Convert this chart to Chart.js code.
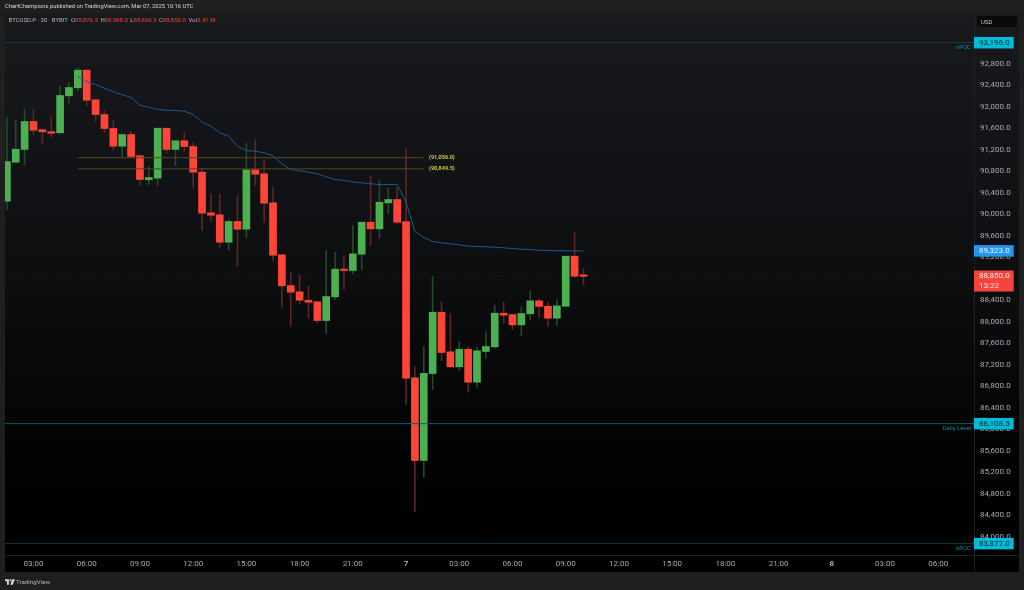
<!DOCTYPE html>
<html>
<head>
<meta charset="utf-8">
<title>BTCUSD.P 30</title>
<style>
  html, body { margin: 0; padding: 0; background: #1f1f1f; overflow: hidden; }
  #wrap { position: relative; width: 1024px; height: 590px; font-family: Roboto, "Liberation Sans", sans-serif; }
  canvas { position: absolute; left: 0; top: 0; }
  .txt { position: absolute; white-space: nowrap; line-height: 1; }
  #published { left: 5px; top: 4px; font-size: 5.8px; color: #d8d8d8; }
  #legend { left: 8.5px; top: 17px; font-size: 6px; color: #b2b5be; }
  #legend b { font-weight: 400; color: #f0433a; margin-right: 1px; }
  #usd { left: 977px; top: 16px; width: 40px; height: 11px; line-height: 11px; background: #0a0a0b; border-radius: 1px; color: #ccc; font-size: 6px; text-indent: 4px; }
  #brand { left: 16px; top: 579px; font-size: 6.2px; color: #b5b5b5; }
  #logo { position: absolute; left: 5px; top: 578.5px; }
</style>
</head>
<body>
<div id="wrap">
  <canvas id="chart" width="1024" height="590"></canvas>
  <div class="txt" id="published">ChartChampions published on TradingView.com, Mar 07, 2025 10:16 UTC</div>
  <div class="txt" id="legend">BTCUSD.P · 30 · BYBIT&nbsp; O<b>88,876.5</b> H<b>88,988.0</b> L<b>88,690.5</b> C<b>88,850.0</b> Vol<b>3.47 M</b></div>
  <div class="txt" id="usd">USD</div>
  <svg id="logo" width="10" height="6" viewBox="0 0 36 20"><path fill="#d8d8d8" d="M0 0h14v20H7V7H0zM20 0a4 4 0 1 1 0 8 4 4 0 0 1 0-8zM27 0h9l-8 20h-9z"/></svg>
  <div class="txt" id="brand">TradingView</div>
</div>

<script src="https://cdn.jsdelivr.net/npm/chart.js@4"></script>
<script>
const openPrices = [90247,90973,91209,91730,91576,91539,91520,92208,92357,92685,92134,91860,91600,91271,91488,91092,90645,90675,91605,91209,91371,91265,90787,90031,89994,89484,89870,89726,90831,90757,90217,89250,88679,88561,88405,88375,88027,88468,88982,88958,89261,89856,89733,90217,90279,89870,86961,85423,87041,88182,87445,87166,87493,86880,87451,87538,88163,88139,87947,88152,88394,88293,88070,88293,89224,88876.5];
const highPrices = [91810,91762,91948,91948,91594,91810,92394,92456,92729,92692,92140,91935,91743,91490,91544,91111,90893,91612,91612,91377,91520,91334,90869,90385,90385,89907,90353,91326,91395,91004,90511,89256,88915,88878,88679,88381,89330,89298,89231,89795,89860,90712,90632,90489,90508,91222,87172,87544,88846,88381,88152,87637,87531,87531,87823,88306,88368,88139,88288,88573,88424,88362,88418,89228,89659,88988];
const lowPrices = [90087,90958,90924,91483,91326,91438,91512,92071,92294,92022,91736,91531,91204,91079,91066,90552,90552,90539,91148,90911,91166,90508,89702,89870,89391,89330,89038,89566,90545,89856,89144,88275,87921,88338,88070,87985,87780,88418,88604,88896,88971,89423,89559,90013,89838,86465,84474,85112,86738,87283,87159,87097,86693,86786,87326,87512,87977,87860,87743,88033,88083,87916,87940,88290,88833,88690.5];
const closePrices = [90986,91215,91730,91568,91539,91512,92214,92363,92685,92126,91860,91600,91271,91488,91079,90651,90688,91605,91209,91371,91265,90787,90024,89987,89484,89870,89726,90831,90749,90210,89242,88673,88554,88405,88368,88027,88474,88982,88958,89268,89856,89733,90228,90279,89856,86954,85423,87047,88182,87432,87166,87493,86880,87464,87544,88163,88126,87947,88158,88394,88288,88070,88301,89224,88852,88850];
const vwapValues = [92567,92474,92418,92350,92283,92227,92177,92033,91991,91959,91940,91935,91922,91860,91717,91643,91520,91457,91271,91191,91177,91148,91092,90939,90837,90813,90787,90757,90701,90651,90632,90608,90589,90571,90558,90558,90558,90228,89683,89572,89497,89473,89454,89436,89410,89404,89399,89391,89380,89367,89354,89348,89335,89330,89327,89325,89324,89323];
const priceTicks = [92800,92400,92000,91600,91200,90800,90400,90000,89600,89200,88800,88400,88000,87600,87200,86800,86400,86000,85600,85200,84800,84400,84000];
const timeBars = [6,12,18,24,30,36,42,48,54,60,66,72,78,84,90,96,102,108];
const timeLabels = ["03:00","06:00","09:00","12:00","15:00","18:00","21:00","7","03:00","06:00","09:00","12:00","15:00","18:00","21:00","8","03:00","06:00"];
const firstBar = 3;
const vwapFirstBar = 11;
const lastPrice = 88850;
const vwapLast = 89323;
const npocTop = 93196;
const npocBottom = 83877;
const dailyLevel = 86108.5;
const yellowLevels = [91056, 90849.5];
const yellowFrom = 11;
const yellowTo = 50;

const UP = "#4caf50", DOWN = "#ff4538";
const UP_WICK = "#24492a", DOWN_WICK = "#5c2623";
const TEAL = "#00bcd9";

const xMin = 2.787, xMax = 112.03;
const yMin = 83665, yMax = 93748.6;

const bars = openPrices.map((o, i) => i + firstBar);
const isUp = openPrices.map((o, i) => closePrices[i] >= o);

function levelLine(value, color, from, to, dash, order) {
  return {
    type: "line",
    data: [{ x: from, y: value }, { x: to, y: value }],
    borderColor: color,
    borderWidth: 1,
    borderDash: dash || [],
    pointRadius: 0,
    order: order || 3
  };
}

function fmt(v) {
  return v.toLocaleString("en-US", { minimumFractionDigits: 1, maximumFractionDigits: 1 });
}

// backgrounds, frame lines, price tags and small labels
const tvPlugin = {
  id: "tv",
  beforeDraw(chart) {
    const c = chart.ctx;
    c.save();
    c.fillStyle = "#1f1f1f";
    c.fillRect(0, 0, 1024, 590);
    const g = c.createLinearGradient(0, 13, 0, 572);
    g.addColorStop(0, "#191a1e");
    g.addColorStop(0.5, "#0c0d0f");
    g.addColorStop(0.8, "#020202");
    g.addColorStop(1, "#000000");
    c.fillStyle = g;
    c.fillRect(5, 13, 1014, 559);
    c.strokeStyle = "#1e2023";
    c.lineWidth = 1;
    c.beginPath();
    c.moveTo(974.5, 13); c.lineTo(974.5, 572);
    c.moveTo(5, 555.5); c.lineTo(1019, 555.5);
    c.stroke();
    c.restore();
  },
  afterDraw(chart) {
    const c = chart.ctx;
    const y = chart.scales.y;
    c.save();
    c.textBaseline = "middle";

    function tag(value, bg, fg, extra) {
      const py = y.getPixelForValue(value);
      const h = extra ? 21 : 11.5;
      c.fillStyle = bg;
      c.fillRect(974, py - 5.75, 39.7, h);
      c.fillStyle = fg;
      c.textAlign = "left";
      c.font = "8px Roboto, sans-serif";
      c.fillText(fmt(value), 979, py);
      if (extra) c.fillText(extra, 979, py + 9.5);
    }
    tag(npocTop, TEAL, "#06282e");
    tag(dailyLevel, TEAL, "#06282e");
    tag(npocBottom, TEAL, "#06282e");
    tag(vwapLast, "#2196f3", "#e8f3fd");
    tag(lastPrice, "#f5443a", "#ffe9e6", "13:22");

    function note(text, value, dy) {
      c.fillStyle = "#0a8aa0";
      c.textAlign = "right";
      c.font = "6px Roboto, sans-serif";
      c.fillText(text, 971, y.getPixelForValue(value) + dy);
    }
    note("nPOC", npocTop, 5);
    note("Daily Level", dailyLevel, 5);
    note("nPOC", npocBottom, 5);

    c.fillStyle = "#cfc83c";
    c.textAlign = "left";
    c.font = "bold 5.5px Roboto, sans-serif";
    yellowLevels.forEach(v => {
      c.fillText("(" + fmt(v) + ")", 429, y.getPixelForValue(v));
    });
    c.restore();
  }
};

new Chart(document.getElementById("chart"), {
  data: {
    datasets: [
      levelLine(lastPrice, "#3a1a18", xMin, xMax, [1, 2], 6),
      {
        type: "bar",
        data: bars.map((x, i) => ({ x: x, y: [lowPrices[i], highPrices[i]] })),
        backgroundColor: isUp.map(u => u ? UP_WICK : DOWN_WICK),
        barThickness: 1,
        grouped: false,
        order: 5
      },
      {
        type: "bar",
        data: bars.map((x, i) => ({ x: x, y: [openPrices[i], closePrices[i]] })),
        backgroundColor: isUp.map(u => u ? UP : DOWN),
        barThickness: 7,
        minBarLength: 1.5,
        grouped: false,
        order: 4
      },
      levelLine(npocTop, "#1a3f49", xMin, xMax),
      levelLine(dailyLevel, "#0d5f6e", xMin, xMax),
      levelLine(npocBottom, "#0b3a44", xMin, xMax),
      levelLine(yellowLevels[0], "#4d4a26", yellowFrom, yellowTo),
      levelLine(yellowLevels[1], "#4d4a26", yellowFrom, yellowTo),
      {
        type: "line",
        data: vwapValues.map((v, i) => ({ x: i + vwapFirstBar, y: v })),
        borderColor: "#1b5a8e",
        borderWidth: 1,
        pointRadius: 0,
        tension: 0,
        order: 1
      }
    ]
  },
  options: {
    responsive: false,
    animation: false,
    devicePixelRatio: 1,
    layout: { padding: { left: 5, top: 13, right: 5, bottom: 18 } },
    plugins: { legend: { display: false }, tooltip: { enabled: false } },
    scales: {
      x: {
        type: "linear",
        min: xMin,
        max: xMax,
        offset: false,
        grid: { display: false, drawTicks: false },
        border: { display: false },
        afterBuildTicks: s => { s.ticks = timeBars.map(v => ({ value: v })); },
        afterFit: s => { s.height = 17; },
        ticks: {
          autoSkip: false,
          maxRotation: 0,
          padding: 4,
          color: "#a9abb2",
          font: ctx => ({
            family: "Roboto, sans-serif",
            size: 8,
            weight: (ctx.tick && timeLabels[timeBars.indexOf(ctx.tick.value)].length === 1) ? "bold" : "normal"
          }),
          callback: v => timeLabels[timeBars.indexOf(v)]
        }
      },
      y: {
        position: "right",
        min: yMin,
        max: yMax,
        grid: { display: false, drawTicks: false },
        border: { display: false },
        afterBuildTicks: s => { s.ticks = priceTicks.map(v => ({ value: v })); },
        afterFit: s => { s.width = 45; },
        ticks: {
          autoSkip: false,
          padding: 6,
          color: "#a9abb2",
          font: { family: "Roboto, sans-serif", size: 8 },
          callback: v => fmt(v)
        }
      }
    }
  },
  plugins: [tvPlugin]
});
</script>
</body>
</html>
